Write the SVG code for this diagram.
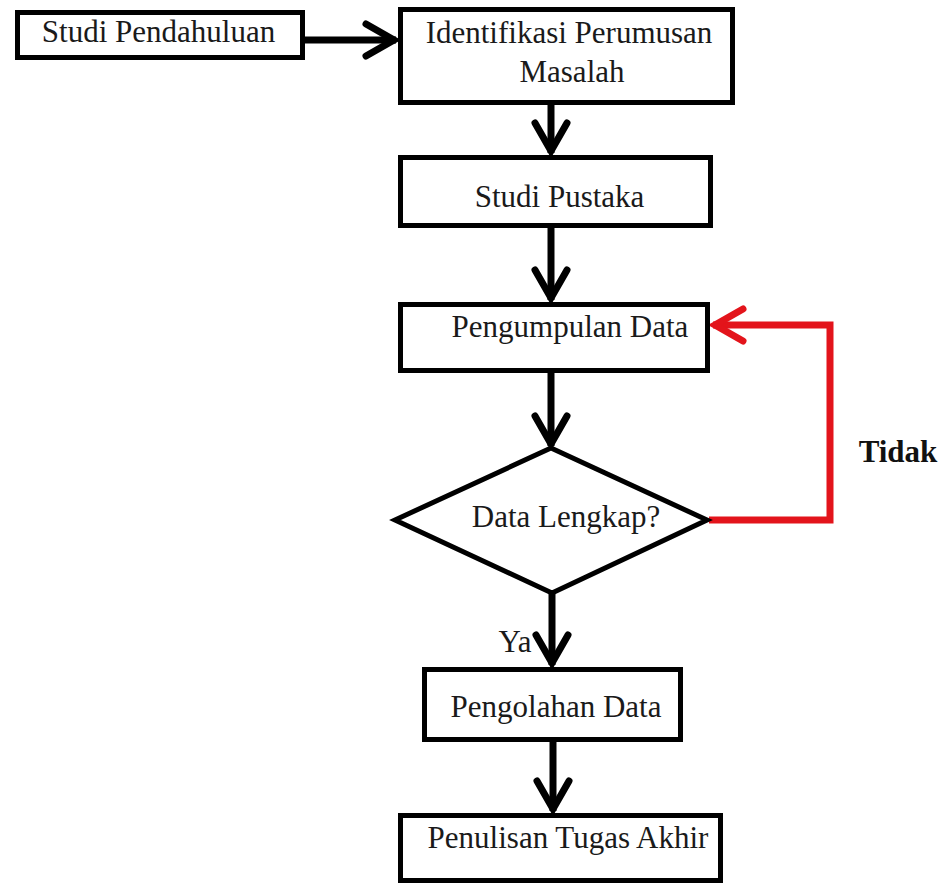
<svg xmlns="http://www.w3.org/2000/svg" width="943" height="885" viewBox="0 0 943 885">
<style>
.box{fill:#ffffff;stroke:#000000;stroke-width:5}
.t{font-family:"Liberation Serif","Times New Roman",serif;font-size:31px;fill:#1a1a1a;text-anchor:middle}
.b{font-weight:bold;fill:#111111}
.c{fill:none;stroke:#000000;stroke-width:7}
.r{fill:none;stroke:#e3141b;stroke-width:7;stroke-linejoin:miter}
</style>
<defs>
<marker id="ah" markerUnits="userSpaceOnUse" markerWidth="50" markerHeight="50" refX="0" refY="0" viewBox="-40 -25 50 50" orient="auto" overflow="visible">
<path d="M-30,-16 L-2,0 L-30,16" fill="none" stroke="#000000" stroke-width="7" stroke-linecap="round"/>
</marker>
<marker id="ahr" markerUnits="userSpaceOnUse" markerWidth="50" markerHeight="50" refX="0" refY="0" viewBox="-40 -25 50 50" orient="auto" overflow="visible">
<path d="M-30,-16 L-2,0 L-30,16" fill="none" stroke="#e3141b" stroke-width="7" stroke-linecap="round"/>
</marker>
</defs>
<rect width="943" height="885" fill="#ffffff"/>
<g id="connectors">
<line class="c" x1="305" y1="40" x2="396" y2="40" marker-end="url(#ah)"/>
<line class="c" x1="551" y1="105" x2="551" y2="153" marker-end="url(#ah)"/>
<line class="c" x1="551" y1="228" x2="551" y2="300" marker-end="url(#ah)"/>
<line class="c" x1="551" y1="373" x2="551" y2="446" marker-end="url(#ah)"/>
<line class="c" x1="552" y1="593" x2="552" y2="665" marker-end="url(#ah)"/>
<line class="c" x1="553" y1="742" x2="553" y2="811" marker-end="url(#ah)"/>
<polyline class="r" points="709,520 830,520 830,325 713,325" marker-end="url(#ahr)"/>
<text class="t" x="515" y="652">Ya</text>
<text class="t b" x="898" y="462">Tidak</text>
</g>
<g id="n1">
<rect class="box" x="17.5" y="12.5" width="285" height="45"/>
<text class="t" x="158.5" y="42">Studi Pendahuluan</text>
</g>
<g id="n2">
<rect class="box" x="400.5" y="9.5" width="332" height="93"/>
<text class="t" x="569" y="43">Identifikasi Perumusan</text>
<text class="t" x="572" y="82">Masalah</text>
</g>
<g id="n3">
<rect class="box" x="400.5" y="157.5" width="310" height="68"/>
<text class="t" x="559.5" y="207">Studi Pustaka</text>
</g>
<g id="n4">
<rect class="box" x="400.5" y="304.5" width="307" height="66"/>
<text class="t" x="570" y="337">Pengumpulan Data</text>
</g>
<g id="n5">
<polygon class="box" points="395,520 551,448 707,520 552,593"/>
<text class="t" x="566" y="527">Data Lengkap?</text>
</g>
<g id="n6">
<rect class="box" x="424.5" y="669.5" width="256" height="70"/>
<text class="t" x="556" y="717">Pengolahan Data</text>
</g>
<g id="n7">
<rect class="box" x="400.5" y="815.5" width="320" height="65"/>
<text class="t" x="568" y="848">Penulisan Tugas Akhir</text>
</g>
</svg>
